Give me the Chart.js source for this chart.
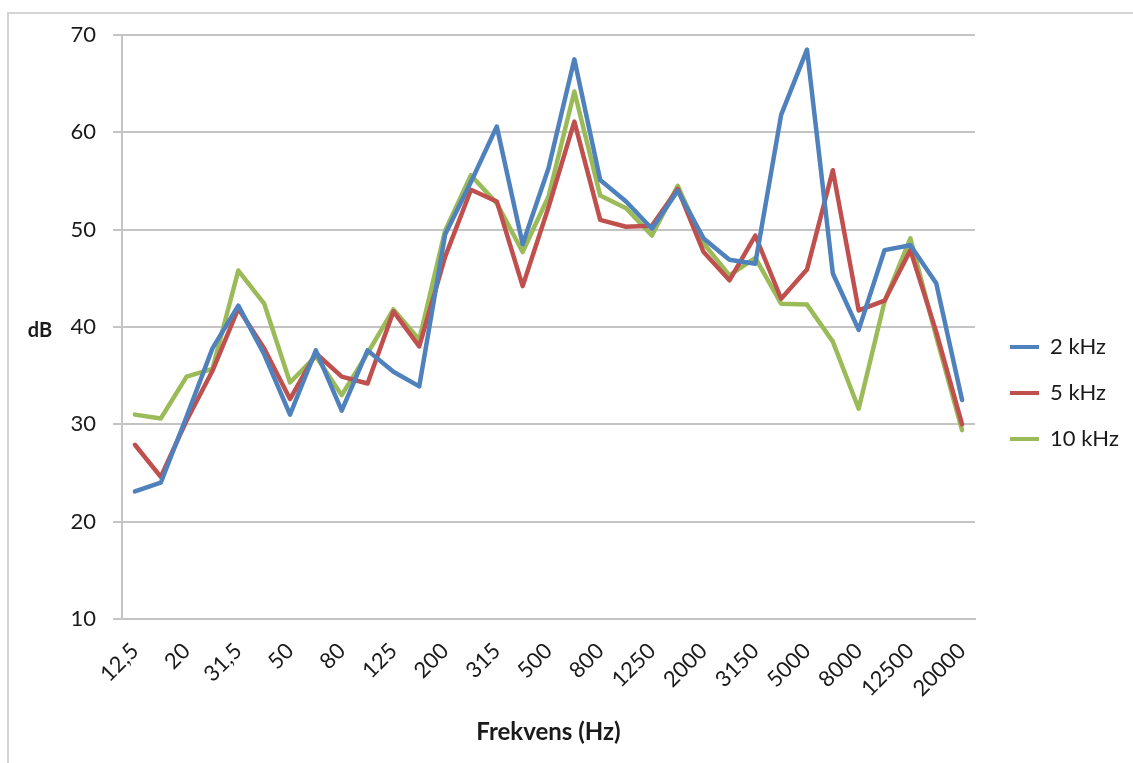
<!DOCTYPE html>
<html>
<head>
<meta charset="utf-8">
<script src="https://cdn.jsdelivr.net/npm/chart.js@4/dist/chart.umd.min.js"></script>
<style>
  html, body { margin: 0; padding: 0; background: #ffffff; }
  #wrap { width: 1133px; height: 763px; position: relative; }
</style>
</head>
<body>
<div id="wrap"><canvas id="chart"></canvas></div>
<script>
// Third-octave band centre frequencies (Hz)
const frequencies = ['12,5', '16', '20', '25', '31,5', '40', '50', '63', '80', '100',
  '125', '160', '200', '250', '315', '400', '500', '630', '800', '1000',
  '1250', '1600', '2000', '2500', '3150', '4000', '5000', '6300', '8000', '10000',
  '12500', '16000', '20000'];

// Band labels printed under the axis (every second band)
const shownFrequencies = ['12,5', '20', '31,5', '50', '80', '125', '200', '315', '500',
  '800', '1250', '2000', '3150', '5000', '8000', '12500', '20000'];

// Sound level per band (dB)
const level2k = [23.1, 24.0, 30.8, 37.8, 42.2, 37.2, 31.0, 37.6, 31.4, 37.6,
  35.4, 33.9, 49.5, 54.9, 60.6, 48.5, 56.3, 67.5, 55.1, 52.9,
  50.1, 54.0, 49.1, 46.9, 46.5, 61.8, 68.5, 45.5, 39.7, 47.9,
  48.4, 44.5, 32.5];

const level5k = [27.9, 24.6, 30.4, 35.5, 41.9, 37.8, 32.6, 37.3, 34.9, 34.2,
  41.6, 38.0, 47.2, 54.1, 52.9, 44.2, 52.3, 61.1, 51.0, 50.3,
  50.4, 54.2, 47.7, 44.8, 49.4, 42.9, 45.9, 56.1, 41.7, 42.7,
  47.9, 39.5, 30.0];

const level10k = [31.0, 30.6, 34.9, 35.7, 45.8, 42.4, 34.3, 37.0, 33.0, 37.3,
  41.8, 38.7, 49.9, 55.6, 52.7, 47.7, 53.4, 64.2, 53.5, 52.2,
  49.4, 54.5, 48.6, 45.3, 47.1, 42.4, 42.3, 38.5, 31.6, 42.6,
  49.1, 39.0, 29.4];

const seriesNames = ['2 kHz', '5 kHz', '10 kHz'];
const yTicks = [10, 20, 30, 40, 50, 60, 70];

const FONT = 'Lato, "Liberation Sans", sans-serif';
const GRID = '#c4c4c4';
const TEXT = '#1a1a1a';

// Light frame around the whole chart
const frame = {
  id: 'frame',
  beforeDraw(chart) {
    const ctx = chart.ctx;
    ctx.save();
    ctx.strokeStyle = '#d4d4d4';
    ctx.lineWidth = 2;
    ctx.strokeRect(8, 13, 1200, 800);
    ctx.restore();
  }
};

// Horizontal "dB" caption left of the value axis
const sideLabel = {
  id: 'sideLabel',
  afterDraw(chart) {
    const { ctx, chartArea } = chart;
    ctx.save();
    ctx.font = 'bold 20px ' + FONT;
    ctx.fillStyle = TEXT;
    ctx.textAlign = 'center';
    ctx.textBaseline = 'middle';
    ctx.fillText('dB', 40, (chartArea.top + chartArea.bottom) / 2 + 4);
    ctx.restore();
  }
};

function line(label, data, color) {
  return {
    label,
    data,
    borderColor: color,
    backgroundColor: color,
    borderWidth: 4.5,
    pointRadius: 0,
    pointHoverRadius: 0,
    tension: 0,
    borderJoinStyle: 'round',
    borderCapStyle: 'round',
    yAxisID: 'y'
  };
}

new Chart(document.getElementById('chart'), {
  type: 'line',
  data: {
    labels: frequencies,
    datasets: [
      line(seriesNames[0], level2k, '#4f81bd'),
      line(seriesNames[1], level5k, '#c0504d'),
      line(seriesNames[2], level10k, '#9bbb59')
    ]
  },
  options: {
    responsive: true,
    maintainAspectRatio: false,
    animation: false,
    events: [],
    layout: { padding: { top: 35, left: 0, right: 13, bottom: 12 } },
    plugins: {
      tooltip: { enabled: false },
      legend: {
        position: 'right',
        maxWidth: 134,
        labels: {
          boxWidth: 29,
          boxHeight: 4,
          padding: 24,
          color: TEXT,
          font: { family: FONT, size: 22 },
          generateLabels(chart) {
            return Chart.defaults.plugins.legend.labels.generateLabels(chart)
              .map(item => Object.assign(item, { lineWidth: 0 }));
          }
        }
      }
    },
    scales: {
      x: {
        type: 'category',
        offset: true,
        grid: { display: false, drawTicks: false },
        border: { display: true, color: GRID, width: 2 },
        ticks: {
          autoSkip: false,
          minRotation: 45,
          maxRotation: 45,
          padding: 19,
          color: TEXT,
          font: { family: FONT, size: 22 },
          callback(value) {
            const lbl = this.getLabelForValue(value);
            return shownFrequencies.includes(lbl) ? lbl : '';
          }
        },
        title: {
          display: true,
          text: 'Frekvens (Hz)',
          color: TEXT,
          font: { family: FONT, size: 24, weight: 'bold' },
          padding: { top: 4, bottom: 4 }
        },
        afterFit(scale) { scale.height = 132; }
      },
      y: {
        type: 'linear',
        position: 'left',
        min: yTicks[0],
        max: yTicks[yTicks.length - 1],
        grid: { color: GRID, lineWidth: 2, tickLength: 9 },
        border: { display: true, color: GRID, width: 2 },
        ticks: {
          stepSize: 10,
          padding: 17,
          color: TEXT,
          font: { family: FONT, size: 22 }
        },
        afterFit(scale) { scale.width = 122; }
      },
      spacer: {
        type: 'linear',
        position: 'right',
        display: true,
        grid: { display: false, drawTicks: false },
        border: { display: false },
        ticks: { display: false },
        afterFit(scale) { scale.width = 11; }
      }
    }
  },
  plugins: [frame, sideLabel]
});
</script>
</body>
</html>
